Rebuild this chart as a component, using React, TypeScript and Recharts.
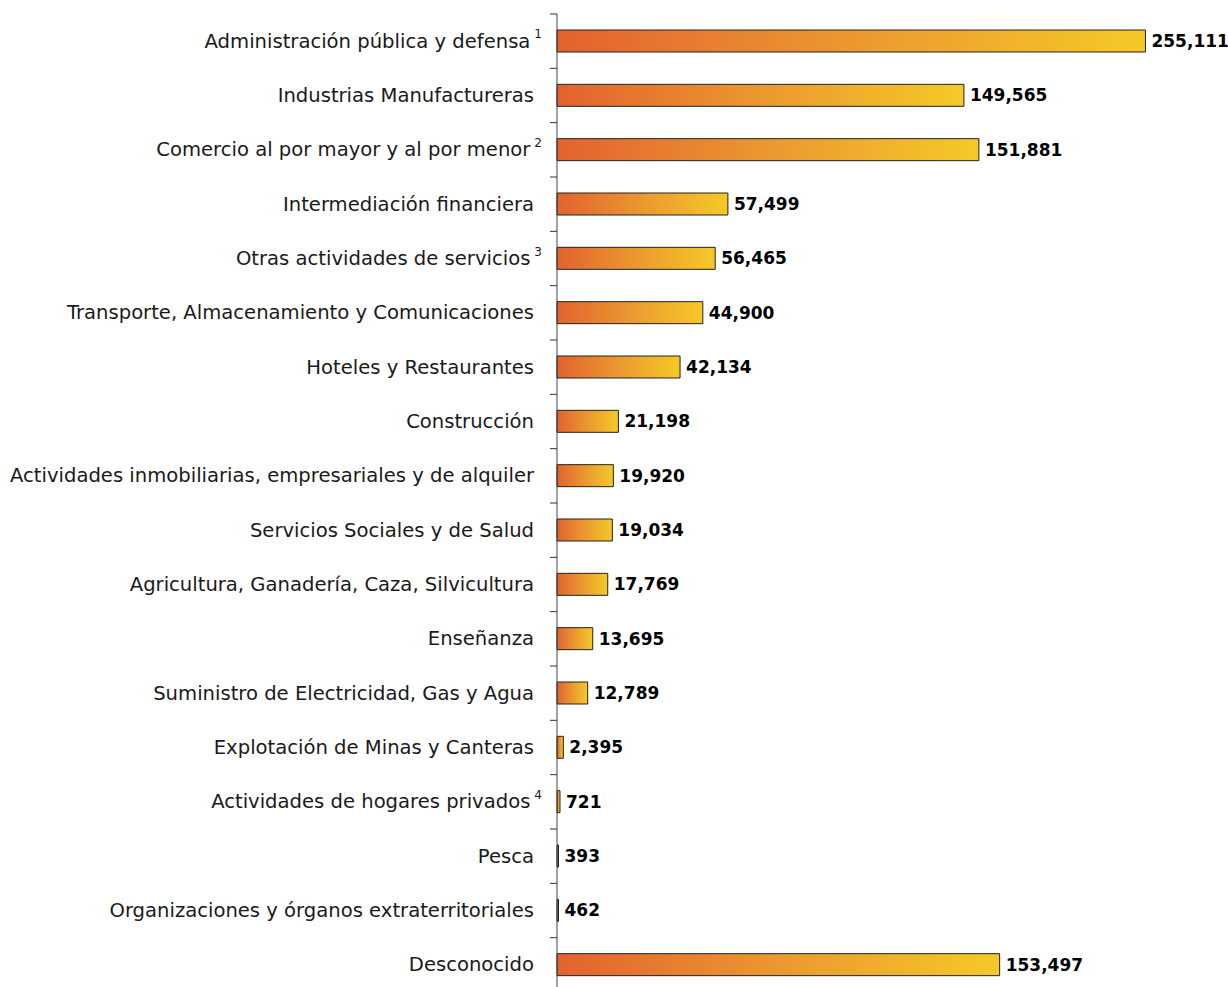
import { Bar, BarChart, LabelList, XAxis, YAxis } from 'recharts'

// categories, top to bottom
const sectors = [
  'Administración pública y defensa',
  'Industrias Manufactureras',
  'Comercio al por mayor y al por menor',
  'Intermediación financiera',
  'Otras actividades de servicios',
  'Transporte, Almacenamiento y Comunicaciones',
  'Hoteles y Restaurantes',
  'Construcción',
  'Actividades inmobiliarias, empresariales y de alquiler',
  'Servicios Sociales y de Salud',
  'Agricultura, Ganadería, Caza, Silvicultura',
  'Enseñanza',
  'Suministro de Electricidad, Gas y Agua',
  'Explotación de Minas y Canteras',
  'Actividades de hogares privados',
  'Pesca',
  'Organizaciones y órganos extraterritoriales',
  'Desconocido',
]

// footnote marks next to some category names
const notes = ['1', '', '2', '', '3', '', '', '', '', '', '', '', '', '', '4', '', '', '']

// printed figures
const printed = [
  '255,111', '149,565', '151,881', '57,499', '56,465', '44,900', '42,134', '21,198', '19,920',
  '19,034', '17,769', '13,695', '12,789', '2,395', '721', '393', '462', '153,497',
]

// bar lengths as drawn in the picture (they do not follow the printed figures exactly)
const drawn = [
  204200, 141200, 146400, 59300, 54900, 50600, 42700, 21300, 19550,
  19200, 17600, 12400, 10650, 2200, 1040, 520, 520, 153600,
]

const rows = sectors.map((name, i) => ({ name, note: notes[i], label: printed[i], value: drawn[i] }))

const W = 1228
const H = 992
const TOP = 14
const AXIS_W = 557
const BAND = (H - TOP) / sectors.length
const FONT = '"DejaVu Sans", sans-serif'

function SectorTick(props: any) {
  const { x, y, payload, index } = props
  const note = notes[index] ?? ''
  return (
    <g>
      <line x1={x - 7} x2={x} y1={y - BAND / 2} y2={y - BAND / 2} stroke="#333" />
      <text
        x={note ? x - 15 : x - 23}
        y={y}
        textAnchor="end"
        dominantBaseline="central"
        fontFamily={FONT}
        fontSize={19.6}
        fill="#1a1a1a"
      >
        {payload.value}
        {note ? (
          <tspan dx={4} dy={-7} fontSize={12}>
            {note}
          </tspan>
        ) : null}
      </text>
    </g>
  )
}

function ValueLabel(props: any) {
  const { x, y, width, height, index } = props
  return (
    <text
      x={x + width + 6}
      y={y + height / 2}
      dominantBaseline="central"
      fontFamily={FONT}
      fontWeight="bold"
      fontSize={17}
      fill="#000"
    >
      {printed[index]}
    </text>
  )
}

export default function App() {
  return (
    <div style={{ position: 'absolute', left: 0, top: 0, width: W, height: 987, overflow: 'hidden', background: '#fff' }}>
      <BarChart
        width={W}
        height={H}
        data={rows}
        layout="vertical"
        margin={{ top: TOP, right: 37, left: 0, bottom: 0 }}
      >
        <defs>
          <linearGradient id="barFill" x1="0" y1="0" x2="1" y2="0">
            <stop offset="0%" stopColor="#e2622f" />
            <stop offset="50%" stopColor="#eb9830" />
            <stop offset="100%" stopColor="#f5c928" />
          </linearGradient>
        </defs>
        <XAxis type="number" hide domain={[0, 220000]} />
        <YAxis
          type="category"
          dataKey="name"
          width={AXIS_W}
          axisLine={{ stroke: '#444' }}
          tickLine={false}
          tickSize={0}
          tickMargin={0}
          interval={0}
          tick={<SectorTick />}
        />
        <Bar dataKey="value" barSize={22} fill="url(#barFill)" stroke="#222" strokeWidth={1} isAnimationActive={false}>
          <LabelList dataKey="label" content={<ValueLabel />} />
        </Bar>
      </BarChart>
    </div>
  )
}
